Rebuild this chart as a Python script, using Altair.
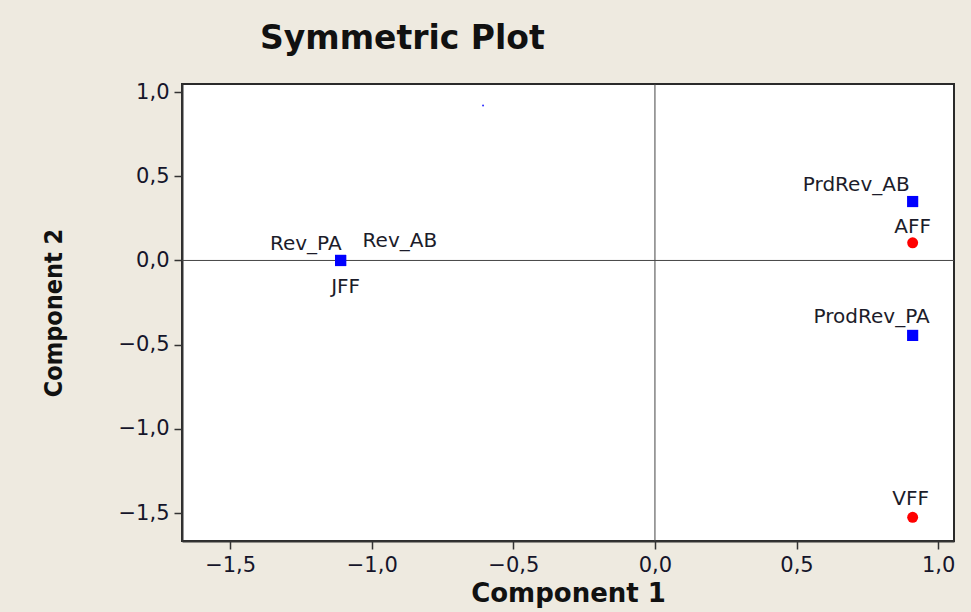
import altair as alt
import pandas as pd

# Correspondence-analysis coordinates (symmetric map)
names = ["JFF", "AFF", "VFF", "Rev_PA", "Rev_AB", "PrdRev_AB", "ProdRev_PA"]
comp1 = [-1.11, 0.91, 0.91, -1.11, -1.11, 0.91, 0.91]
comp2 = [0.0, 0.105, -1.525, 0.0, 0.0, 0.35, -0.445]
kinds = ["row", "row", "row", "col", "col", "col", "col"]

# faint blue speck near the top of the map
speck_x = [-0.607]
speck_y = [0.92]

x_ticks = [-1.5, -1.0, -0.5, 0.0, 0.5, 1.0]
y_ticks = [-1.5, -1.0, -0.5, 0.0, 0.5, 1.0]

df = pd.DataFrame({"name": names, "c1": comp1, "c2": comp2, "kind": kinds})
speck = pd.DataFrame({"c1": speck_x, "c2": speck_y})
zero = pd.DataFrame({"v": [0.0]})

comma = "replace(format(datum.value, '.1f'), '.', ',')"

xs = alt.Scale(domain=[-1.67, 1.056], nice=False, zero=False)
ys = alt.Scale(domain=[-1.666, 1.048], nice=False, zero=False)

X = alt.X("c1:Q", scale=xs, title="Component 1",
          axis=alt.Axis(values=x_ticks, labelExpr=comma, grid=False,
                        titleFontSize=26, titleFontWeight="bold",
                        titlePadding=5, labelPadding=5))
Y = alt.Y("c2:Q", scale=ys, title="Component 2",
          axis=alt.Axis(values=y_ticks, labelExpr=comma, grid=False,
                        titleFont="DejaVu Sans Condensed", titleFontSize=25,
                        titleFontWeight="bold", titlePadding=52, labelPadding=5))

base = alt.Chart(df)

vline = alt.Chart(zero).mark_rule(color="#444", strokeWidth=1).encode(x=alt.X("v:Q", scale=xs))
hline = alt.Chart(zero).mark_rule(color="#444", strokeWidth=1).encode(y=alt.Y("v:Q", scale=ys))

rows = base.transform_filter("datum.kind == 'row'").mark_circle(
    color="#ff0000", opacity=1, size=120).encode(x=X, y=Y)
cols = base.transform_filter("datum.kind == 'col'").mark_square(
    color="#0000ff", opacity=1, size=125).encode(x=X, y=Y)
speck_pt = alt.Chart(speck).mark_point(
    color="#3030ff", filled=True, opacity=1, size=4).encode(
    x=alt.X("c1:Q", scale=xs), y=alt.Y("c2:Q", scale=ys))

# label placement around each marker: (align, dx, dy)
placement = {
    "Rev_PA": ("right", 1, -10),
    "Rev_AB": ("left", 22, -13),
    "JFF": ("center", 5, 33),
    "PrdRev_AB": ("right", -3, -11),
    "AFF": ("center", 0, -10),
    "ProdRev_PA": ("right", 17, -12),
    "VFF": ("center", -2, -12),
}

labels = []
for nm, (al, dx, dy) in placement.items():
    labels.append(
        base.transform_filter(alt.datum.name == nm).mark_text(
            align=al, baseline="alphabetic", dx=dx, dy=dy,
            font="DejaVu Sans", fontSize=20, color="#1c1c2a"
        ).encode(x=alt.X("c1:Q", scale=xs), y=alt.Y("c2:Q", scale=ys), text="name:N")
    )

chart = alt.layer(vline, hline, rows, cols, speck_pt, *labels).properties(
    width=772,
    height=457,
    padding={"left": 182, "top": 84, "right": 17, "bottom": 71},
    autosize=alt.AutoSizeParams(type="none"),
    background="#eeeae0",
    title=alt.TitleParams(
        "Symmetric Plot", anchor="start", frame="group", dx=78, offset=25,
        font="DejaVu Sans", fontSize=33, fontWeight="bold", color="#111111"
    ),
).configure_view(
    fill="white", stroke="#2a2a2a", strokeWidth=2
).configure_axis(
    domainColor="#333333", domainWidth=2, tickColor="#333333", tickSize=8,
    tickWidth=1.5, labelFont="DejaVu Sans", labelFontSize=21, labelColor="#15152a",
    titleFont="DejaVu Sans", titleColor="#111111"
)

chart.save("out.html", embed_options={"renderer": "svg", "actions": False})
